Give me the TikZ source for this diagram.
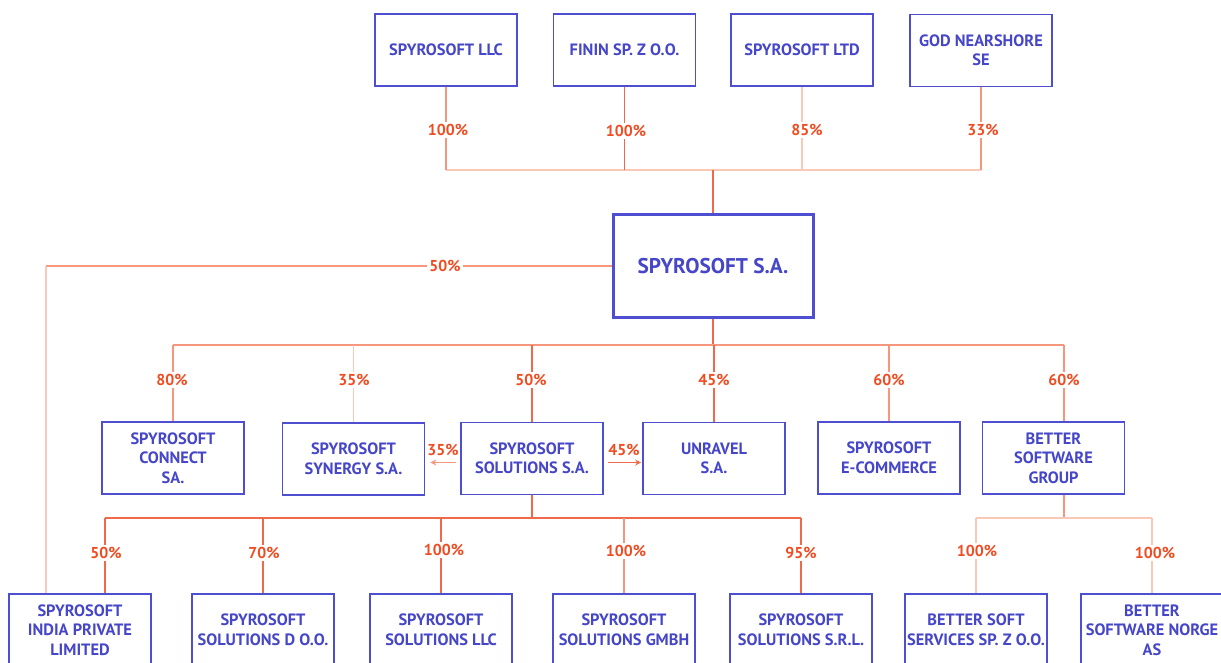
\documentclass[tikz,border=0pt]{standalone}
\usepackage{fontspec}
\setmainfont{PT Sans}
\usetikzlibrary{arrows.meta}
\definecolor{boxblue}{RGB}{78,78,208}
\definecolor{txtblue}{RGB}{70,70,200}
\definecolor{pctred}{RGB}{240,76,34}
\definecolor{lnred}{RGB}{241,105,75}
\definecolor{lnmid}{RGB}{245,150,125}
\definecolor{lnpale}{RGB}{250,200,182}
\begin{document}
\begin{tikzpicture}[x=1pt,y=-1pt,
 box/.style={draw=boxblue,line width=1.6pt,minimum width=142pt,minimum height=72pt,inner sep=0pt,align=center,text=txtblue,font=\bfseries\fontsize{16.4}{19.5}\selectfont},
 pct/.style={text=pctred,font=\bfseries\fontsize{15.8}{16}\selectfont,fill=white,inner sep=2pt},
 ln/.style={draw=lnred,line width=1.3pt},
 lnm/.style={draw=lnmid,line width=1.3pt},
 lnp/.style={draw=lnpale,line width=1.3pt},
 arr/.style={ln,-{Stealth[length=6pt,width=6pt]}}]
\useasboundingbox[fill=white] (0,0) rectangle (1221,663);
% top row
\node[box] (llc) at (446,50) {SPYROSOFT LLC};
\node[box] (finin) at (624.5,50) {FININ SP. Z O.O.};
\node[box] (ltd) at (802,50) {SPYROSOFT LTD};
\node[box] (god) at (981,50.5) {GOD NEARSHORE\\SE};
\node[box,minimum width=200pt,minimum height=102pt,line width=3pt,font=\bfseries\fontsize{21.3}{24}\selectfont] (sa) at (713,266) {SPYROSOFT S.A.};
% middle row
\node[box] (connect) at (173,458) {SPYROSOFT\\CONNECT\\SA.};
\node[box] (synergy) at (353.5,459) {SPYROSOFT\\SYNERGY S.A.};
\node[box] (sol) at (532,458.5) {SPYROSOFT\\SOLUTIONS S.A.};
\node[box] (unravel) at (714,458.5) {UNRAVEL\\S.A.};
\node[box] (ecom) at (889,458) {SPYROSOFT\\E-COMMERCE};
\node[box] (bsg) at (1053.5,458) {BETTER\\SOFTWARE\\GROUP};
% bottom row
\node[box] (india) at (80,630) {SPYROSOFT\\INDIA PRIVATE\\LIMITED};
\node[box] (dd) at (263,630) {SPYROSOFT\\SOLUTIONS D O.O.};
\node[box] (sllc) at (441,630) {SPYROSOFT\\SOLUTIONS LLC};
\node[box] (gmbh) at (624,630) {SPYROSOFT\\SOLUTIONS GMBH};
\node[box] (srl) at (801,630) {SPYROSOFT\\SOLUTIONS S.R.L.};
\node[box] (bss) at (976,630) {BETTER SOFT\\SERVICES SP. Z O.O.};
\node[box] (norge) at (1152,630) {BETTER\\SOFTWARE NORGE\\AS};
% junctions
\coordinate (j1) at (713,170);
\coordinate (j2) at (713,345);
\coordinate (lx) at (46,0);
\coordinate (bsgt) at (1064,345);
\coordinate (j3) at (532,518);
\coordinate (indt) at (105,518);
\coordinate (j4) at (1064,518);
% top connectors
\draw[lnp] (llc.south |- j1) -- (god.south |- j1);
\draw[lnm] (llc.south) -- (llc.south |- j1);
\draw[ln] (finin.south) -- (finin.south |- j1);
\draw[lnp] (ltd.south) -- (ltd.south |- j1);
\draw[lnm] (god.south) -- (god.south |- j1);
\draw[ln] (j1) -- (sa.north);
% 50% to India
\draw[lnm] (sa.west) -- (sa.west -| lx) coordinate (c50);
\draw[lnp] (c50) -- (c50 |- india.north);
% middle connectors
\draw[ln] (sa.south) -- (j2);
\draw[lnm] (connect.north |- j2) -- (bsgt);
\draw[lnm] (connect.north) -- (connect.north |- j2);
\draw[lnp] (synergy.north) -- (synergy.north |- j2);
\draw[ln] (sol.north) -- (sol.north |- j2);
\draw[ln] (unravel.north) -- (unravel.north |- j2);
\draw[lnm] (ecom.north) -- (ecom.north |- j2);
\draw[lnm] (bsgt) -- (bsgt |- bsg.north);
% arrows
\path ([yshift=-4pt]sol.west) coordinate (a1);
\path ([yshift=-4pt]sol.east) coordinate (a2);
\draw[arr,draw=lnmid,shorten <=4pt,shorten >=5pt] (a1) -- (a1 -| synergy.east);
\draw[arr,shorten <=4pt,shorten >=1pt] (a2) -- (a2 -| unravel.west);
% bottom connectors (solutions)
\draw[ln] (sol.south) -- (j3);
\draw[ln] (indt) -- (srl.north |- indt);
\draw[ln] (indt) -- (indt |- india.north);
\draw[ln] (dd.north) -- (dd.north |- j3);
\draw[ln] (sllc.north) -- (sllc.north |- j3);
\draw[lnm] (gmbh.north) -- (gmbh.north |- j3);
\draw[ln] (srl.north) -- (srl.north |- j3);
% bottom connectors (better software group)
\draw[lnm] (bsg.south -| j4) -- (j4);
\draw[lnp] (bss.north |- j4) -- (norge.north |- j4);
\draw[lnp] (bss.north) -- (bss.north |- j4);
\draw[lnp] (norge.north) -- (norge.north |- j4);
% labels
\node[pct] (p1) at (448,130) {100\%};
\node[pct] (p2) at (626,131) {100\%};
\node[pct] (p3) at (807,130) {85\%};
\node[pct] (p4) at (983,130) {33\%};
\node[pct] (p5) at (445,266) {50\%};
\node[pct] (p6) at (172,380) {80\%};
\node[pct] (p7) at (354,380) {35\%};
\node[pct] (p8) at (531,380) {50\%};
\node[pct] (p9) at (714,380) {45\%};
\node[pct] (p10) at (889,380) {60\%};
\node[pct] (p11) at (1064,380) {60\%};
\node[pct,fill=none] (p12) at (443,450) {35\%};
\node[pct,fill=none] (p13) at (624,450) {45\%};
\node[pct] (p14) at (106,553) {50\%};
\node[pct] (p15) at (264,553) {70\%};
\node[pct] (p16) at (444,550) {100\%};
\node[pct] (p17) at (626,551) {100\%};
\node[pct] (p18) at (801,553) {95\%};
\node[pct] (p19) at (977,551) {100\%};
\node[pct] (p20) at (1155,553) {100\%};
\end{tikzpicture}
\end{document}
